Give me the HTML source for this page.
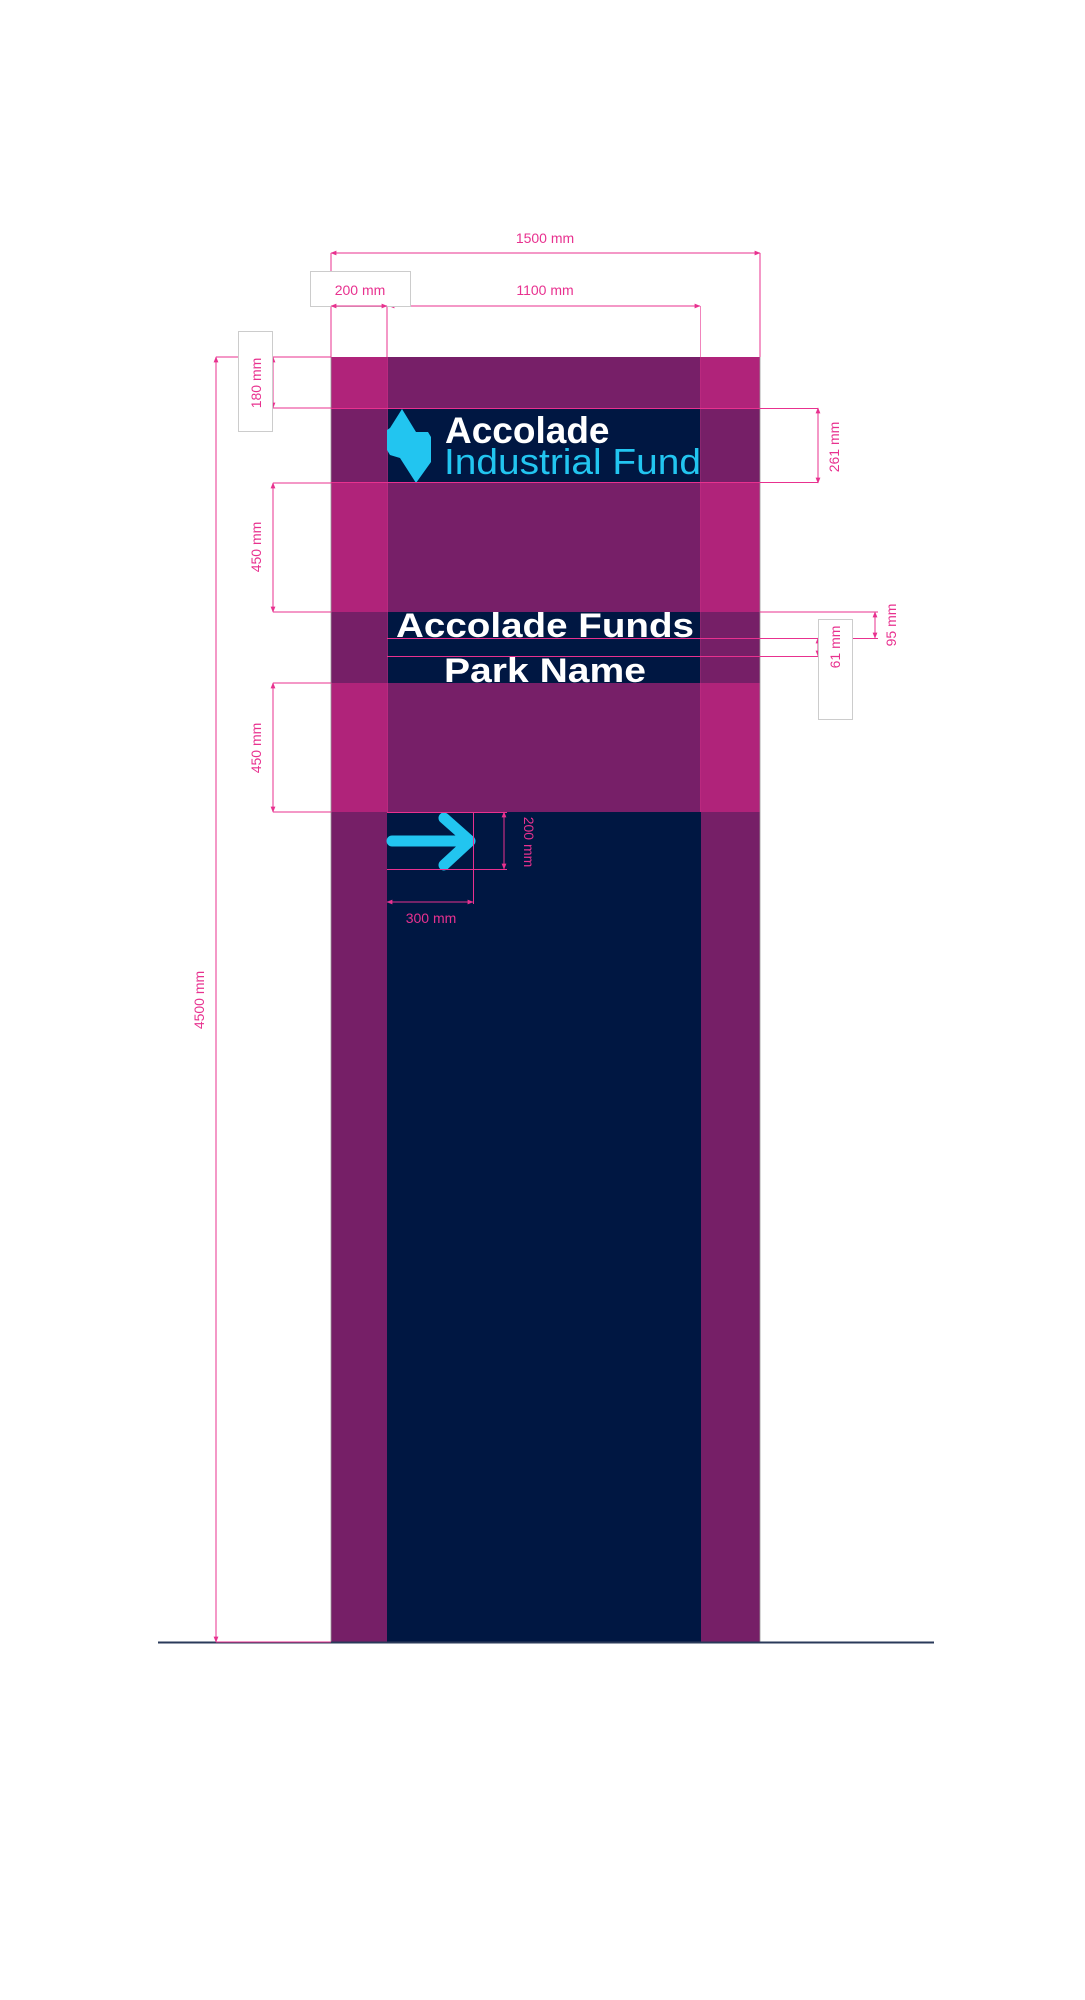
<!DOCTYPE html>
<html><head><meta charset="utf-8"><style>
html,body{margin:0;padding:0;background:#fff;}
svg{display:block;}
text{font-family:"Liberation Sans",sans-serif;}
.d{fill:#E8318F;font-size:14px;}
</style></head><body>
<svg width="1085" height="2000" viewBox="0 0 1085 2000" xmlns="http://www.w3.org/2000/svg">
<defs>
<marker id="a" viewBox="0 0 10 10" refX="9" refY="5" markerWidth="6" markerHeight="6" orient="auto-start-reverse"><path d="M0,1 L10,5 L0,9 z" fill="#E8318F"/></marker>
</defs>
<rect x="331" y="357" width="429" height="1286" fill="#761F67"/>
<rect x="387" y="357" width="314" height="1286" fill="#001742"/>
<rect x="331" y="357" width="429" height="51" fill="#B0237A"/>
<rect x="387" y="357" width="314" height="51" fill="#771F68"/>
<rect x="331" y="483" width="429" height="129" fill="#B0237A"/>
<rect x="387" y="483" width="314" height="129" fill="#771F68"/>
<rect x="331" y="683" width="429" height="129" fill="#B0237A"/>
<rect x="387" y="683" width="314" height="129" fill="#771F68"/>
<line x1="331" y1="357" x2="331" y2="1643" stroke="#999" stroke-width="0.8"/>
<line x1="760" y1="357" x2="760" y2="1643" stroke="#999" stroke-width="0.8"/>
<line x1="387.5" y1="357" x2="387.5" y2="812" stroke="#E8318F" stroke-width="0.6"/>
<line x1="700.5" y1="306" x2="700.5" y2="812" stroke="#E8318F" stroke-width="0.6"/>
<line x1="158" y1="1642.5" x2="934" y2="1642.5" stroke="#2a3a5a" stroke-width="2"/>
<polygon points="402,409 416,432 428,432 431,437 431,462 416,483 400,458 390,455 387,450 387,430 390,428" fill="#22C5F0"/>
<text x="445" y="443" font-size="37" font-weight="bold" fill="#fff">Accolade</text>
<text x="444" y="474" font-size="36.5" fill="#22C5F0" textLength="257" lengthAdjust="spacingAndGlyphs">Industrial Fund</text>
<text x="545" y="637" font-size="34" font-weight="bold" fill="#fff" text-anchor="middle" textLength="298" lengthAdjust="spacingAndGlyphs">Accolade Funds</text>
<text x="545" y="682" font-size="34" font-weight="bold" fill="#fff" text-anchor="middle" textLength="202" lengthAdjust="spacingAndGlyphs">Park Name</text>
<g stroke="#22C5F0" stroke-width="11" stroke-linecap="round" stroke-linejoin="round" fill="none">
<line x1="392" y1="841" x2="466" y2="841"/>
<polyline points="444,818 470,841 444,865"/>
</g>
<g stroke="#E8318F" stroke-width="1" fill="none">
<line x1="331" y1="253" x2="331" y2="357"/>
<line x1="760" y1="253" x2="760" y2="357"/>
<line x1="331" y1="253" x2="760" y2="253" marker-start="url(#a)" marker-end="url(#a)"/>
<line x1="387" y1="306" x2="387" y2="357"/>
<line x1="389" y1="306" x2="700" y2="306" marker-start="url(#a)" marker-end="url(#a)"/>
<line x1="216" y1="357" x2="331" y2="357"/>
<line x1="216" y1="357" x2="216" y2="1642" marker-start="url(#a)" marker-end="url(#a)"/>
<line x1="216" y1="1642" x2="331" y2="1642"/>
<line x1="273" y1="408" x2="331" y2="408"/>
<line x1="273" y1="357" x2="273" y2="408" marker-start="url(#a)" marker-end="url(#a)"/>
<line x1="273" y1="483" x2="331" y2="483"/>
<line x1="273" y1="612" x2="331" y2="612"/>
<line x1="273" y1="483" x2="273" y2="612" marker-start="url(#a)" marker-end="url(#a)"/>
<line x1="273" y1="683" x2="331" y2="683"/>
<line x1="273" y1="812" x2="331" y2="812"/>
<line x1="273" y1="683" x2="273" y2="812" marker-start="url(#a)" marker-end="url(#a)"/>
<line x1="331" y1="408.5" x2="818" y2="408.5"/>
<line x1="331" y1="482.5" x2="818" y2="482.5"/>
<line x1="818" y1="408" x2="818" y2="483" marker-start="url(#a)" marker-end="url(#a)"/>
<line x1="760" y1="612" x2="878" y2="612"/>
<line x1="387" y1="638.5" x2="878" y2="638.5"/>
<line x1="875" y1="612" x2="875" y2="638" marker-start="url(#a)" marker-end="url(#a)"/>
<line x1="387" y1="656.5" x2="818" y2="656.5"/>
<line x1="818" y1="638" x2="818" y2="656" marker-start="url(#a)" marker-end="url(#a)"/>
<line x1="387" y1="812.5" x2="507" y2="812.5"/>
<line x1="387" y1="869.5" x2="507" y2="869.5"/>
<line x1="473.5" y1="812" x2="473.5" y2="904"/>
<line x1="504" y1="812" x2="504" y2="869" marker-start="url(#a)" marker-end="url(#a)"/>
<line x1="387" y1="902" x2="473" y2="902" marker-start="url(#a)" marker-end="url(#a)"/>
</g>
<rect x="310.5" y="271.5" width="100" height="35" fill="#fff" stroke="#ccc" stroke-width="1"/>
<line x1="331" y1="306" x2="387" y2="306" stroke="#E8318F" marker-start="url(#a)" marker-end="url(#a)"/>
<rect x="238.5" y="331.5" width="34" height="100" fill="#fff" stroke="#ccc" stroke-width="1"/>
<rect x="818.5" y="619.5" width="34" height="100" fill="#fff" stroke="#ccc" stroke-width="1"/>
<text class="d" x="545" y="243" text-anchor="middle">1500 mm</text>
<text class="d" x="360" y="295" text-anchor="middle">200 mm</text>
<text class="d" x="545" y="295" text-anchor="middle">1100 mm</text>
<text class="d" transform="translate(261,383) rotate(-90)" text-anchor="middle">180 mm</text>
<text class="d" transform="translate(261,547) rotate(-90)" text-anchor="middle">450 mm</text>
<text class="d" transform="translate(261,748) rotate(-90)" text-anchor="middle">450 mm</text>
<text class="d" transform="translate(204,1000) rotate(-90)" text-anchor="middle">4500 mm</text>
<text class="d" transform="translate(839,447) rotate(-90)" text-anchor="middle">261 mm</text>
<text class="d" transform="translate(896,625) rotate(-90)" text-anchor="middle">95 mm</text>
<text class="d" transform="translate(840,647) rotate(-90)" text-anchor="middle">61 mm</text>
<text class="d" transform="translate(524,842) rotate(90)" text-anchor="middle">200 mm</text>
<text class="d" x="431" y="923" text-anchor="middle">300 mm</text>
</svg>
</body></html>
